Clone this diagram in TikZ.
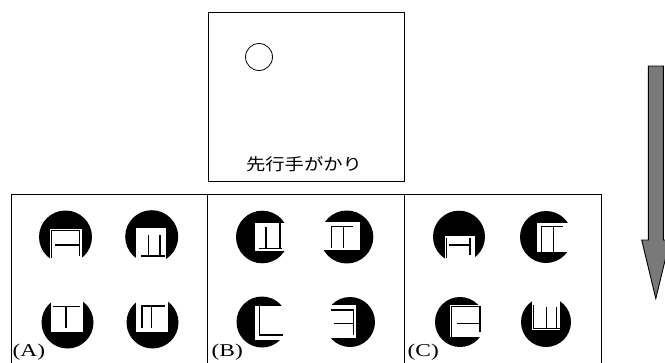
\documentclass[tikz,border=0pt]{standalone}
\usepackage{fontspec}
\setmainfont{Liberation Serif}
\newfontfamily\jpfont{Noto Sans CJK JP}
\tikzset{
  frame/.style={draw=black, line width=1pt},
  disk/.style={fill=black},
  occ/.style={fill=white},
  gl/.style={draw=black, line width=1.1pt},
  lab/.style={font=\fontsize{18}{18}\selectfont, inner sep=0pt, anchor=south west},
  arrowshape/.style={draw=black, fill=gray!95!black, line width=0.9pt, line join=miter}
}
\begin{document}
\begin{tikzpicture}[x=1pt,y=-1pt]
\useasboundingbox (0,0) rectangle (665,362);
% top cue box
\draw[frame] (208,12) rectangle (404,181);
\node[draw=black, line width=0.8pt, circle, minimum size=27pt, inner sep=0pt] (cuecircle) at (259,57) {};
\node[font=\jpfont\fontsize{16.5}{16.5}\selectfont, inner sep=0pt] (cue) at (304,164) {\scalebox{1.17}[1]{先行手がかり}};
% bottom boxes
\draw[frame] (11,194) rectangle (601,370);
\draw[frame] (207,194) -- (207,370);
\draw[frame] (404,194) -- (404,370);
% ---- A1
\begin{scope}[shift={(65.5,237)}]
  \fill[disk] (0,0) circle (26.5);
  \fill[occ] (-16,-8.5) rectangle (16,30);
  \draw[gl] (-14,21) -- (-14,-6.5) -- (13.8,-6.5) -- (13.8,19);
  \draw[gl] (-10.5,8) -- (13.8,8);
\end{scope}
% ---- A2
\begin{scope}[shift={(151.7,236.7)}]
  \fill[disk] (0,0) circle (26.5);
  \fill[occ] (-16,-8.5) rectangle (14.5,30);
  \draw[gl] (-3.4,-1.7) -- (-3.4,20.5);
  \draw[gl] (8.3,-1.7) -- (8.3,19.3);
  \draw[gl] (-10.7,19.3) -- (13.3,19.3);
\end{scope}
% ---- A3
\begin{scope}[shift={(67.5,322.5)}]
  \fill[disk] (0,0) circle (26);
  \fill[occ] (-16.8,-35) rectangle (15.8,9.2);
  \draw[gl] (-14.8,-15.8) -- (12.5,-15.8);
  \draw[gl] (-1.5,-15.8) -- (-1.5,5.5);
\end{scope}
% ---- A4
\begin{scope}[shift={(152.5,322.5)}]
  \fill[disk] (0,0) circle (26);
  \fill[occ] (-16.8,-35) rectangle (15.2,9.2);
  \draw[gl] (-10.5,5.8) -- (-10.5,-16.5) -- (12,-16.5);
  \draw[gl] (-0.8,-16.5) -- (-0.8,5.8);
\end{scope}
% ---- B1
\begin{scope}[shift={(262.3,237)}]
  \fill[disk] (0,0) circle (26.3);
  \fill[occ] (-7.3,-14.3) rectangle (35,13.7);
  \draw[gl] (3.7,-10.3) -- (3.7,12);
  \draw[gl] (17.7,-14.3) -- (17.7,11.3);
  \draw[gl] (-3,11.3) -- (19.4,11.3);
\end{scope}
% ---- B2
\begin{scope}[shift={(346.8,237)}]
  \fill[disk] (0,0) circle (26.5);
  \fill[occ] (-35,-15.3) rectangle (13.2,13);
  \draw[gl] (-15.1,11.3) -- (-15.1,-10.3) -- (6.5,-10.3);
  \draw[gl] (-3.5,-10.3) -- (-3.5,11.3);
\end{scope}
% ---- B3
\begin{scope}[shift={(262,322)}]
  \fill[disk] (0,0) circle (25.5);
  \fill[occ] (-7,-16) rectangle (28,18);
  \draw[gl] (-2.7,-16) -- (-2.7,13) -- (21.3,13);
\end{scope}
% ---- B4
\begin{scope}[shift={(350,322)}]
  \fill[disk] (0,0) circle (25);
  \fill[occ] (-35,-17) rectangle (6,16.3);
  \draw[gl] (-19,-12) -- (3.5,-12) -- (3.5,13);
  \draw[gl] (-15.7,1.3) -- (3.5,1.3);
\end{scope}
% ---- C1
\begin{scope}[shift={(459,236.7)}]
  \fill[disk] (0,0) circle (26);
  \fill[occ] (-14,-1) rectangle (16,30);
  \draw[gl] (-12.3,1.6) -- (-12.3,21.6);
  \draw[gl] (-9.7,8.3) -- (11,8.3);
  \draw[gl] (11,1.6) -- (11,18.3);
\end{scope}
% ---- C2
\begin{scope}[shift={(546,237)}]
  \fill[disk] (0,0) circle (26);
  \fill[occ] (-9.3,-13.7) rectangle (35,14.7);
  \draw[gl] (-4.3,14.7) -- (-4.3,-10.3) -- (17.3,-10.3);
  \draw[gl] (7.3,-10.3) -- (7.3,14.7);
\end{scope}
% ---- C3
\begin{scope}[shift={(460,322)}]
  \fill[disk] (0,0) circle (25);
  \fill[occ] (-10,-17) rectangle (25,14.7);
  \draw[gl] (-8.3,14.7) -- (-8.3,-15.3) -- (20,-15.3) -- (20,10);
  \draw[gl] (-3.3,1.3) -- (20,1.3);
\end{scope}
% ---- C4
\begin{scope}[shift={(546,322)}]
  \fill[disk] (0,0) circle (25);
  \fill[occ] (-14.3,-35) rectangle (14,8);
  \draw[gl] (-12.7,-17) -- (-12.7,6.3) -- (14,6.3);
  \draw[gl] (0.7,-15.3) -- (0.7,6.3);
  \draw[gl] (10.7,-15.3) -- (10.7,6.3);
\end{scope}
% labels
\node[lab] (la) at (12.5,361) {\scalebox{1.3}[1]{(A)}};
\node[lab] (lb) at (211.5,361) {\scalebox{1.3}[1]{(B)}};
\node[lab] (lc) at (407.5,361) {\scalebox{1.3}[1]{(C)}};
% big arrow
\draw[arrowshape] (648.3,66) -- (663.3,66) -- (663.3,240) -- (670,240) -- (655.8,298.5) -- (641.7,240) -- (648.3,240) -- cycle;
\end{tikzpicture}
\end{document}
